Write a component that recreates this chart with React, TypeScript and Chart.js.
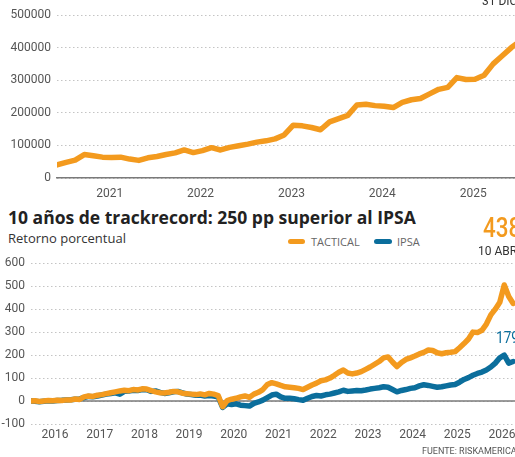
import React, { useEffect, useRef } from "react";
import { Chart, registerables } from "chart.js";

Chart.register(...registerables);

// ---------- data: top chart (value of portfolio) ----------
const topStartYear = 2020.42;
const topStepYears = 0.1;
const topTickYears = [2021, 2022, 2023, 2024, 2025];
const topYTicks = [0, 100000, 200000, 300000, 400000, 500000];
// thousands
const topValuesK = [
  40, 48, 55, 72, 68, 64, 63, 64, 58, 54, 62, 66, 72, 77, 86, 78, 84, 93, 86, 94,
  99, 104, 110, 114, 120, 132, 162, 160, 155, 148, 172, 182, 192, 224, 226, 222, 220, 216, 232, 240,
  244, 258, 272, 278, 308, 302, 303, 315, 350, 375, 400, 420,
];

// ---------- data: bottom chart (percent return) ----------
const bottomStartYear = 2015.45;
const bottomStepYears = 0.1;
const bottomTickYears = [2016, 2017, 2018, 2019, 2020, 2021, 2022, 2023, 2024, 2025, 2026];
const bottomYTicks = [-100, 0, 100, 200, 300, 400, 500, 600];
const tacticalValues = [
  0, 1, -2, 0, 2, 1, 3, 2, 5, 4, 9, 7, 18, 22, 20, 25, 28, 32, 36, 40,
  44, 47, 45, 50, 48, 53, 52, 45, 40, 36, 35, 38, 42, 40, 34, 32, 30, 28, 31, 27,
  33, 30, 24, -25, 2, 8, 12, 18, 22, 16, 30, 38, 50, 72, 80, 75, 68, 62, 60, 58,
  55, 50, 60, 70, 78, 88, 92, 100, 112, 125, 135, 122, 118, 122, 128, 138, 148, 160, 172, 188,
  192, 170, 150, 168, 181, 188, 196, 205, 212, 222, 220, 210, 206, 210, 212, 215, 232, 250, 270, 300,
  298, 308, 335, 375, 400, 430, 505, 455, 425,
];
const ipsaValues = [
  0, -1, -3, -1, 1, 0, 2, 3, 5, 6, 8, 9, 15, 20, 19, 22, 26, 30, 33, 36,
  30, 42, 44, 47, 46, 50, 49, 42, 44, 38, 33, 36, 40, 42, 36, 30, 28, 25, 26, 22,
  24, 22, 18, -28, -12, -15, -12, -18, -20, -22, -10, -4, 4, 15, 26, 30, 18, 12, 12, 10,
  6, 3, 12, 20, 24, 22, 27, 30, 35, 40, 47, 42, 44, 46, 45, 48, 52, 55, 58, 62,
  60, 50, 40, 46, 50, 55, 58, 66, 71, 68, 64, 60, 62, 66, 70, 72, 82, 94, 102, 112,
  120, 126, 135, 148, 165, 188, 200, 165, 172,
];

const ORANGE = "#F39A1E";
const BLUE = "#0B6E9C";
const TICK_COLOR = "#555555";
const GRID_COLOR = "#c4c4c4";
const TICK_FONT = { family: "Roboto", size: 12 };

function toPoints(values: number[], start: number, step: number, scale = 1) {
  return values.map((v, i) => ({ x: start + i * step, y: v * scale }));
}

export default function App() {
  const topRef = useRef<HTMLCanvasElement | null>(null);
  const bottomRef = useRef<HTMLCanvasElement | null>(null);

  useEffect(() => {
    if (!topRef.current || !bottomRef.current) return;

    const topChart = new Chart(topRef.current, {
      type: "line",
      data: {
        datasets: [
          {
            data: toPoints(topValuesK, topStartYear, topStepYears, 1000),
            borderColor: ORANGE,
            borderWidth: 5.5,
            pointRadius: 0,
            tension: 0,
            borderJoinStyle: "round",
            borderCapStyle: "round",
          },
        ],
      },
      options: {
        responsive: false,
        animation: false,
        events: [],
        layout: { padding: { top: 15, left: 0, right: 0, bottom: 0 } },
        plugins: { legend: { display: false }, tooltip: { enabled: false } },
        scales: {
          x: {
            type: "linear",
            min: 2020.42,
            max: 2025.57,
            afterBuildTicks: (s: any) => {
              s.ticks = topTickYears.map((v) => ({ value: v }));
            },
            afterFit: (s: any) => {
              s.height = 27;
            },
            ticks: {
              autoSkip: false,
              maxRotation: 0,
              padding: 9,
              color: TICK_COLOR,
              font: TICK_FONT,
              callback: (v: any) => String(v),
            },
            grid: { display: false, drawTicks: false },
            border: { display: true, color: "#7a7a7a", width: 1.5 },
          },
          y: {
            type: "linear",
            min: 0,
            max: 500000,
            afterBuildTicks: (s: any) => {
              s.ticks = topYTicks.map((v) => ({ value: v }));
            },
            afterFit: (s: any) => {
              s.width = 57;
            },
            ticks: {
              padding: 6,
              color: TICK_COLOR,
              font: TICK_FONT,
              callback: (v: any) => String(v),
            },
            grid: { color: GRID_COLOR, lineWidth: 1, drawTicks: false, borderDash: [1.5, 2.5] } as any,
            border: { display: false, dash: [1.5, 2.5] },
          },
        },
      },
    } as any);

    const bottomChart = new Chart(bottomRef.current, {
      type: "line",
      data: {
        datasets: [
          {
            label: "TACTICAL",
            data: toPoints(tacticalValues, bottomStartYear, bottomStepYears),
            borderColor: ORANGE,
            borderWidth: 5.5,
            pointRadius: 0,
            tension: 0,
            borderJoinStyle: "round",
            borderCapStyle: "round",
            order: 1,
          },
          {
            label: "IPSA",
            data: toPoints(ipsaValues, bottomStartYear, bottomStepYears),
            borderColor: BLUE,
            borderWidth: 5.5,
            pointRadius: 0,
            tension: 0,
            borderJoinStyle: "round",
            borderCapStyle: "round",
            order: 2,
          },
          {
            label: "zero",
            data: [
              { x: 2015.463, y: 0 },
              { x: 2026.514, y: 0 },
            ],
            borderColor: "#7a7a7a",
            borderWidth: 1.5,
            pointRadius: 0,
            order: 3,
          },
        ],
      },
      options: {
        responsive: false,
        animation: false,
        events: [],
        layout: { padding: { top: 12, left: 0, right: 0, bottom: 0 } },
        plugins: { legend: { display: false }, tooltip: { enabled: false } },
        scales: {
          x: {
            type: "linear",
            min: 2015.463,
            max: 2026.514,
            afterBuildTicks: (s: any) => {
              s.ticks = bottomTickYears.map((v) => ({ value: v }));
            },
            afterFit: (s: any) => {
              s.height = 33;
            },
            ticks: {
              autoSkip: false,
              maxRotation: 0,
              padding: 4,
              color: TICK_COLOR,
              font: TICK_FONT,
              callback: (v: any) => String(v),
            },
            grid: { display: false, drawTicks: false },
            border: { display: false },
          },
          y: {
            type: "linear",
            min: -100,
            max: 600,
            afterBuildTicks: (s: any) => {
              s.ticks = bottomYTicks.map((v) => ({ value: v }));
            },
            afterFit: (s: any) => {
              s.width = 31;
            },
            ticks: {
              padding: 6,
              color: TICK_COLOR,
              font: TICK_FONT,
              callback: (v: any) => String(v),
            },
            grid: { color: GRID_COLOR, lineWidth: 1, drawTicks: false, borderDash: [1.5, 2.5] } as any,
            border: { display: false, dash: [1.5, 2.5] },
          },
        },
      },
    } as any);

    return () => {
      topChart.destroy();
      bottomChart.destroy();
    };
  }, []);

  const abs = (s: React.CSSProperties): React.CSSProperties => ({ position: "absolute", margin: 0, whiteSpace: "nowrap", ...s });

  return (
    <div
      style={{
        position: "absolute",
        left: 0,
        top: 0,
        width: 515,
        height: 457,
        overflow: "hidden",
        background: "#ffffff",
      }}
    >
      <canvas ref={topRef} width={525} height={205} style={{ position: "absolute", left: 0, top: 0, display: "block" }} />
      <canvas ref={bottomRef} width={525} height={207} style={{ position: "absolute", left: 0, top: 250, display: "block" }} />

      <div style={abs({ left: 482, top: -5, fontFamily: "Roboto", fontSize: 12, lineHeight: "12px", color: "#333" })}>31 DIC</div>

      <div style={abs({ left: 8, top: 209, fontFamily: "'Open Sans'", fontWeight: 700, fontSize: 17.5, lineHeight: "17.5px", color: "#222" })}>
        10 años de trackrecord: 250 pp superior al IPSA
      </div>
      <div style={abs({ left: 8, top: 232, fontFamily: "'Open Sans'", fontSize: 13, lineHeight: "13px", color: "#333" })}>
        Retorno porcentual
      </div>

      <div style={abs({ left: 288, top: 239, width: 17, height: 5, borderRadius: 3, background: ORANGE })} />
      <div style={abs({ left: 311, top: 236, fontFamily: "'Open Sans'", fontSize: 11, lineHeight: "11px", color: "#666" })}>TACTICAL</div>
      <div style={abs({ left: 374, top: 239, width: 18, height: 5, borderRadius: 3, background: BLUE })} />
      <div style={abs({ left: 397, top: 236, fontFamily: "'Open Sans'", fontSize: 11, lineHeight: "11px", color: "#666" })}>IPSA</div>

      <div
        style={abs({
          left: 483,
          top: 214,
          fontFamily: "Roboto",
          fontWeight: 500,
          fontSize: 28,
          lineHeight: "28px",
          color: ORANGE,
          transform: "scaleX(0.8)",
          transformOrigin: "left top",
        })}
      >
        438
      </div>
      <div style={abs({ left: 478, top: 245, fontFamily: "Roboto", fontSize: 12, lineHeight: "12px", color: "#333" })}>10 ABR</div>
      <div
        style={abs({
          left: 496,
          top: 330,
          fontFamily: "Roboto",
          fontSize: 16,
          lineHeight: "16px",
          color: BLUE,
          transform: "scaleX(0.85)",
          transformOrigin: "left top",
        })}
      >
        179
      </div>
      <div style={abs({ left: 422, top: 447, fontFamily: "Roboto", fontSize: 9, lineHeight: "9px", color: "#555" })}>
        FUENTE: RISKAMERICA
      </div>
    </div>
  );
}
